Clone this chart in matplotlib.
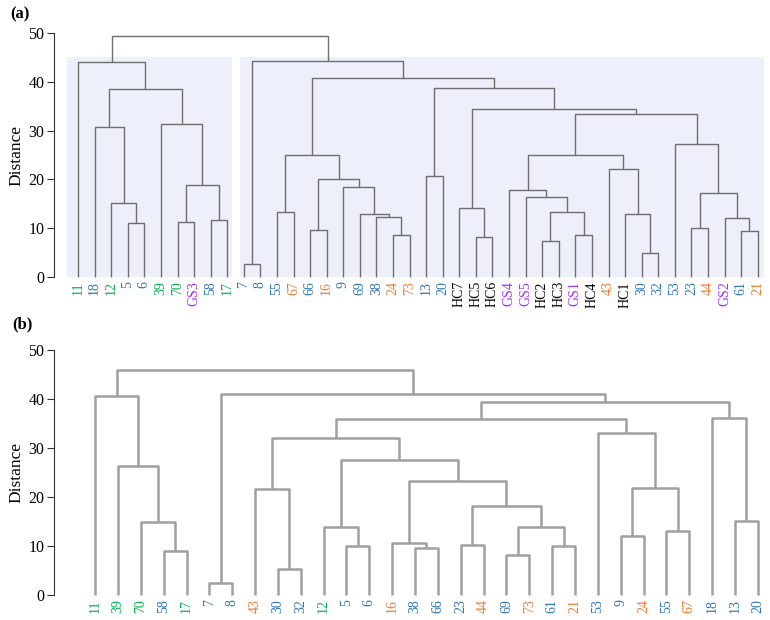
import matplotlib
matplotlib.use("Agg")
import matplotlib.pyplot as plt
from matplotlib.patches import Rectangle

plt.rcParams['font.family'] = ['Liberation Serif', 'DejaVu Serif']

# colour groups of the samples
GREEN, BLUE, ORANGE, PURPLE, BLACK = '#00b050', '#2e75b6', '#ed7d31', '#9b30ff', '#000000'

# ---- panel (a) ----
leaves_a = ['11', '18', '12', '5', '6', '39', '70', 'GS3', '58', '17',
            '7', '8', '55', '67', '66', '16', '9', '69', '38', '24', '73',
            '13', '20', 'HC7', 'HC5', 'HC6', 'GS4', 'GS5', 'HC2', 'HC3',
            'GS1', 'HC4', '43', 'HC1', '30', '32', '53', '23', '44', 'GS2',
            '61', '21']
colors_a = [GREEN, BLUE, GREEN, BLUE, BLUE, GREEN, GREEN, PURPLE, BLUE, GREEN,
            BLUE, BLUE, BLUE, ORANGE, BLUE, ORANGE, BLUE, BLUE, BLUE, ORANGE, ORANGE,
            BLUE, BLUE, BLACK, BLACK, BLACK, PURPLE, PURPLE, BLACK, BLACK,
            PURPLE, BLACK, ORANGE, BLACK, BLUE, BLUE, BLUE, BLUE, ORANGE, PURPLE,
            BLUE, ORANGE]
# (height, left, right)
tree_a = (49.3,
          (44.0, '11',
           (38.5,
            (30.8, '18', (15.1, '12', (11.0, '5', '6'))),
            (31.3, '39', (18.9, (11.2, '70', 'GS3'), (11.6, '58', '17'))))),
          (44.2, (2.7, '7', '8'),
           (40.75,
            (25.0, (13.4, '55', '67'),
             (20.1, (9.6, '66', '16'),
              (18.4, '9', (13.0, '69', (12.2, '38', (8.6, '24', '73')))))),
            (38.7, (20.75, '13', '20'),
             (34.45, (14.2, 'HC7', (8.1, 'HC5', 'HC6')),
              (33.5,
               (24.9,
                (17.9, 'GS4', (16.4, 'GS5', (13.3, (7.3, 'HC2', 'HC3'), (8.7, 'GS1', 'HC4')))),
                (22.2, '43', (12.9, 'HC1', (4.9, '30', '32')))),
               (27.3, '53', (17.3, (10.1, '23', '44'), (12.1, 'GS2', (9.4, '61', '21'))))))))))
groups_a = [(-0.65, 9.3), (9.75, 41.4)]   # shaded cluster boxes (leaf units)
box_top = 45

# ---- panel (b) ----
leaves_b = ['11', '39', '70', '58', '17', '7', '8', '43', '30', '32', '12', '5',
            '6', '16', '38', '66', '23', '44', '69', '73', '61', '21', '53', '9',
            '24', '55', '67', '18', '13', '20']
colors_b = [GREEN, GREEN, GREEN, BLUE, GREEN, BLUE, BLUE, ORANGE, BLUE, BLUE, GREEN, BLUE,
            BLUE, ORANGE, BLUE, BLUE, BLUE, ORANGE, BLUE, ORANGE, BLUE, ORANGE, BLUE, BLUE,
            ORANGE, BLUE, ORANGE, BLUE, BLUE, BLUE]
tree_b = (45.9,
          (40.7, '11', (26.3, '39', (15.0, '70', (9.0, '58', '17')))),
          (41.0, (2.4, '7', '8'),
           (39.4,
            (35.85,
             (32.0, (21.6, '43', (5.4, '30', '32')),
              (27.55, (13.9, '12', (10.1, '5', '6')),
               (23.3, (10.7, '16', (9.5, '38', '66')),
                (18.2, (10.3, '23', '44'),
                 (13.9, (8.2, '69', '73'), (10.0, '61', '21')))))),
             (33.0, '53', (21.9, (12.1, '9', '24'), (13.1, '55', '67')))),
            (36.2, '18', (15.2, '13', '20')))))


def draw_tree(ax, node, pos, color, lw):
    # returns (x, height) of the node, drawing the links below it
    if isinstance(node, str):
        return pos[node], 0.0
    h, left, right = node
    xl, hl = draw_tree(ax, left, pos, color, lw)
    xr, hr = draw_tree(ax, right, pos, color, lw)
    ax.plot([xl, xl, xr, xr], [hl, h, h, hr], color=color, lw=lw,
            solid_capstyle='butt', clip_on=False, zorder=2)
    return (xl + xr) / 2, h


def style_axis(ax, leaves, colors, xlim):
    ax.set_xlim(*xlim)
    ax.set_ylim(0, 50)
    ax.set_yticks([0, 10, 20, 30, 40, 50])
    ax.tick_params(axis='y', labelsize=11.5, length=5, width=0.8, color='#333333', pad=2)
    ax.set_xticks(range(len(leaves)))
    ax.set_xticklabels(leaves, rotation=90, fontsize=10)
    ax.tick_params(axis='x', length=0, pad=3)
    for lab, c in zip(ax.get_xticklabels(), colors):
        lab.set_color(c)
    for s in ['top', 'right', 'bottom']:
        ax.spines[s].set_visible(False)
    ax.spines['left'].set_color('#333333')
    ax.spines['left'].set_linewidth(0.8)
    ax.set_ylabel('Distance', fontsize=12.5, labelpad=2.5)


fig = plt.figure(figsize=(7.7, 6.2), dpi=100)

ax_a = fig.add_axes([54 / 770, 1 - 277 / 620, 712 / 770, 244 / 620])
for x0, x1 in groups_a:
    ax_a.add_patch(Rectangle((x0, 0), x1 - x0, box_top, facecolor='#edf0fa',
                             edgecolor='none', zorder=0))
draw_tree(ax_a, tree_a, {n: i for i, n in enumerate(leaves_a)}, '#6e6e6e', 1.0)
style_axis(ax_a, leaves_a, colors_a, (-1.45, 41.5))

ax_b = fig.add_axes([54 / 770, 1 - 595 / 620, 712 / 770, 245 / 620])
draw_tree(ax_b, tree_b, {n: i for i, n in enumerate(leaves_b)}, '#a0a0a0', 1.8)
style_axis(ax_b, leaves_b, colors_b, (-1.8, 29.36))

fig.text(10 / 770, 1 - 14 / 620, '(a)', fontsize=12, fontweight='bold', va='center')
fig.text(12 / 770, 1 - 324 / 620, '(b)', fontsize=12, fontweight='bold', va='center')

fig.savefig('out.png', dpi=100)
